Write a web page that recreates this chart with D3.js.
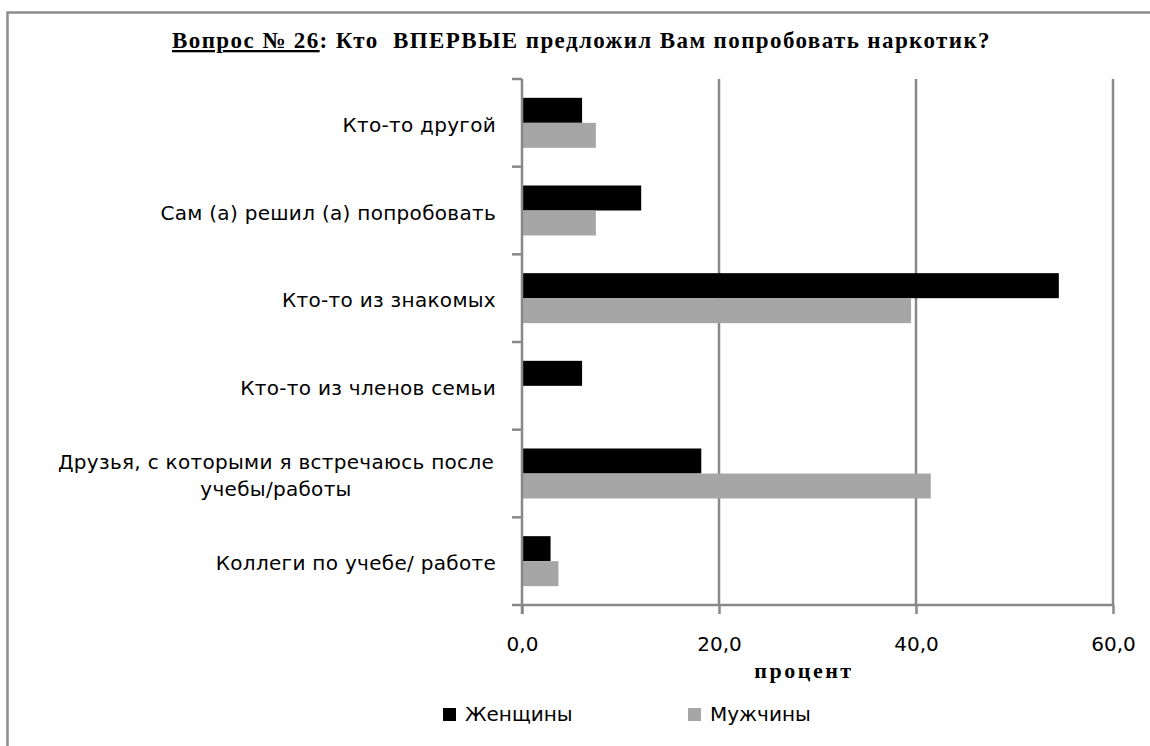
<!DOCTYPE html>
<html><head><meta charset="utf-8">
<script src="https://cdn.jsdelivr.net/npm/d3@7"></script>
<style>
html,body{margin:0;background:#fff;overflow:hidden;}
svg{display:block;}
</style></head>
<body>
<svg id="chart" width="1150" height="746"></svg>
<script>
const categories = [
  "Кто-то другой",
  "Сам (а) решил (а) попробовать",
  "Кто-то из знакомых",
  "Кто-то из членов семьи",
  "Друзья, с которыми я встречаюсь после|учебы/работы",
  "Коллеги по учебе/ работе"
];
const women = [6.1, 12.1, 54.5, 6.1, 18.2, 2.9];
const men   = [7.5, 7.5, 39.5, 0, 41.5, 3.7];
const seriesNames = ["Женщины", "Мужчины"];
const xTicks = [0, 20, 40, 60];

const svg = d3.select("#chart");
const gridColor = "#888888";
const colors = ["#000000", "#a6a6a6"];
const labelFont = "'DejaVu Sans', Verdana, sans-serif";
const serif = "'Liberation Serif', 'Times New Roman', serif";

// outer frame (only top and left edges visible)
svg.append("path").attr("d", "M7.5,760V12.5H1160")
  .attr("fill", "none").attr("stroke", "#8c8c8c").attr("stroke-width", 2.5);

const plot = {left: 522, right: 1113, top: 79, bottom: 605};
const x = d3.scaleLinear().domain([0, 60]).range([plot.left, plot.right]);
const y = d3.scaleBand().domain(categories).range([plot.top, plot.bottom]).paddingInner(0).paddingOuter(0);
const barH = 25;

// gridlines
svg.append("g").selectAll("line").data(xTicks.slice(1)).join("line")
  .attr("x1", d => x(d)).attr("x2", d => x(d))
  .attr("y1", plot.top).attr("y2", plot.bottom)
  .attr("stroke", gridColor).attr("stroke-width", 2.5);

// bars
const data = categories.map((c, i) => ({c, vals: [women[i], men[i]]}));
const gBars = svg.append("g");
data.forEach(d => {
  const cy = y(d.c) + y.bandwidth() / 2;
  d.vals.forEach((v, k) => {
    if (v <= 0) return;
    gBars.append("rect")
      .attr("x", x(0)).attr("y", cy - barH + k * barH)
      .attr("width", x(v) - x(0)).attr("height", barH)
      .attr("fill", colors[k]);
  });
});

// y axis line + ticks
const yAxisG = svg.append("g");
yAxisG.append("line").attr("x1", plot.left).attr("x2", plot.left)
  .attr("y1", plot.top).attr("y2", plot.bottom + 9)
  .attr("stroke", gridColor).attr("stroke-width", 2.5);
const bounds = categories.map(c => y(c)).concat([plot.bottom]);
yAxisG.selectAll("line.t").data(bounds).join("line").attr("class", "t")
  .attr("x1", plot.left - 10).attr("x2", plot.left)
  .attr("y1", d => d).attr("y2", d => d)
  .attr("stroke", gridColor).attr("stroke-width", 2.5);

// x axis
const xAxis = d3.axisBottom(x).tickValues(xTicks).tickSize(9).tickPadding(22)
  .tickFormat(d => d3.format(".1f")(d).replace(".", ","));
const xg = svg.append("g").attr("transform", `translate(0,${plot.bottom})`).call(xAxis);
xg.select(".domain").attr("stroke", gridColor).attr("stroke-width", 2.5)
  .attr("d", `M${plot.left},0H${plot.right}`);
xg.selectAll(".tick line").attr("stroke", gridColor).attr("stroke-width", 2.5);
xg.selectAll(".tick text").attr("font-family", labelFont).attr("font-size", 20)
  .attr("fill", "#000").attr("dy", 0).attr("y", 46);

// category labels
categories.forEach(c => {
  const lines = c.split("|");
  const cy = y(c) + y.bandwidth() / 2;
  const t = svg.append("text").attr("font-family", labelFont).attr("font-size", 20)
    .attr("letter-spacing", 0.3)
    .attr("fill", "#000").attr("text-anchor", lines.length > 1 ? "middle" : "end");
  if (lines.length === 1) {
    t.attr("x", 496).attr("y", cy + 9).text(lines[0]);
  } else {
    lines.forEach((l, i) => {
      t.append("tspan").attr("x", 276).attr("y", cy - 5 + i * 27).text(l);
    });
  }
});

// title
const title = svg.append("text").attr("x", 172).attr("y", 48)
  .attr("font-family", serif).attr("font-weight", "bold").attr("font-size", 23)
  .attr("letter-spacing", 1.4).attr("fill", "#000");
title.append("tspan").attr("text-decoration", "underline").text("Вопрос № 26");
title.append("tspan").text(": Кто\u00a0 ВПЕРВЫЕ предложил Вам попробовать наркотик?");

// x axis title
svg.append("text").attr("x", 804).attr("y", 678).attr("text-anchor", "middle")
  .attr("font-family", serif).attr("font-weight", "bold").attr("font-size", 22)
  .attr("letter-spacing", 2.5).text("процент");

// legend
const legendX = [443, 688];
seriesNames.forEach((n, i) => {
  svg.append("rect").attr("x", legendX[i]).attr("y", 708).attr("width", 13).attr("height", 13)
    .attr("fill", colors[i]);
  svg.append("text").attr("x", legendX[i] + 22).attr("y", 721)
    .attr("font-family", labelFont).attr("font-size", 20).text(n);
});
</script>
</body></html>
